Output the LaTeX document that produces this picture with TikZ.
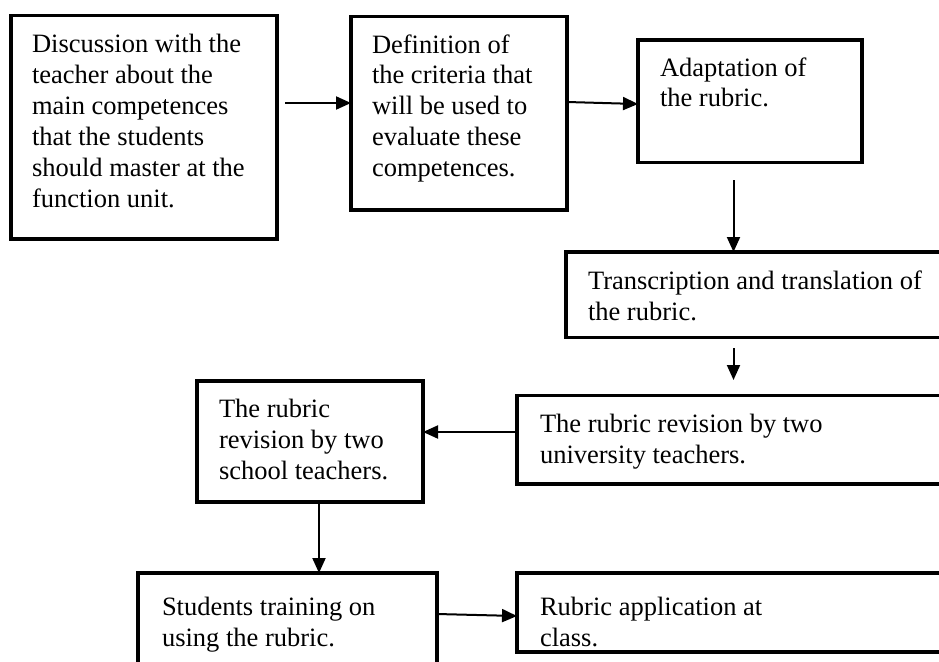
\documentclass[tikz,border=0pt]{standalone}
\usepackage{fontspec}
\setmainfont{Liberation Serif}
\usetikzlibrary{arrows.meta,calc}

% #1 width, #2 height, #3 left padding, #4 top padding, #5 text
\newcommand\boxtext[5]{%
  \begin{minipage}[t][#2][t]{#1}%
    \raggedright\leftskip=#3\relax
    \vspace*{#4}\rule{0pt}{20pt}#5\par
  \end{minipage}}

\begin{document}
\begin{tikzpicture}[x=1pt,y=1pt,
  stepbox/.style={draw, line width=3.6pt, inner sep=0pt, outer sep=0pt,
                  anchor=north west, font=\fontsize{26.5}{31}\selectfont},
  flow/.style={line width=2pt, -{Triangle[length=15pt,width=13pt]}}]

\useasboundingbox (0,0) rectangle (939,-661);
\clip (0,0) rectangle (939,-661);

% process steps
\node[stepbox] (b1) at (11,-15.5)
  {\boxtext{266pt}{223.5pt}{21pt}{17.5pt}{Discussion with the\\teacher about the\\main competences\\that the students\\should master at the\\function unit.}};
\node[stepbox] (b2) at (351,-16.5)
  {\boxtext{216pt}{193.5pt}{21pt}{16.5pt}{Definition of\\the criteria that\\will be used to\\evaluate these\\competences.}};
\node[stepbox] (b3) at (638,-40)
  {\boxtext{224pt}{122.5pt}{22pt}{16pt}{Adaptation of\\the rubric.}};
\node[stepbox] (b4) at (566,-252)
  {\boxtext{394pt}{85.5pt}{22pt}{17pt}{Transcription and translation of\\the rubric.}};
\node[stepbox] (b5) at (517,-395.5)
  {\boxtext{443pt}{88.5pt}{23pt}{16.5pt}{The rubric revision by two\\university teachers.}};
\node[stepbox] (b6) at (197,-381)
  {\boxtext{226pt}{121pt}{22pt}{16pt}{The rubric\\revision by two\\school teachers.}};
\node[stepbox] (b7) at (138,-573)
  {\boxtext{299pt}{107pt}{24pt}{22pt}{Students training on\\using the rubric.}};
\node[stepbox] (b8) at (517,-573)
  {\boxtext{443pt}{79pt}{23pt}{22pt}{Rubric application at\\class.}};

% vertical trunk on the right-hand side, and the drop below b6
\coordinate (trunk) at ([xshift=-16.5pt]b3.south);
\coordinate (drop) at ([xshift=9pt]b6.south);

% connectors
\draw[flow] ([xshift=8pt,yshift=24.25pt]b1.east) -- ([yshift=10.25pt]b2.west);
\draw[flow] ([yshift=11.25pt]b2.east) -- ([yshift=-2.75pt]b3.west);
\draw[flow] ([yshift=-17.5pt]trunk) -- (trunk |- b4.north);
\draw[flow] ($(b4.south -| trunk)+(0,-10.5)$) -- ($(b5.north -| trunk)+(0,15.5)$);
\draw[flow] ([yshift=7.75pt]b5.west) -- ([yshift=9.5pt]b6.east);
\draw[flow] (drop) -- (drop |- b7.north);
\draw[flow] ([yshift=12.5pt]b7.east) -- ([yshift=-3.5pt]b8.west);
\end{tikzpicture}
\end{document}
